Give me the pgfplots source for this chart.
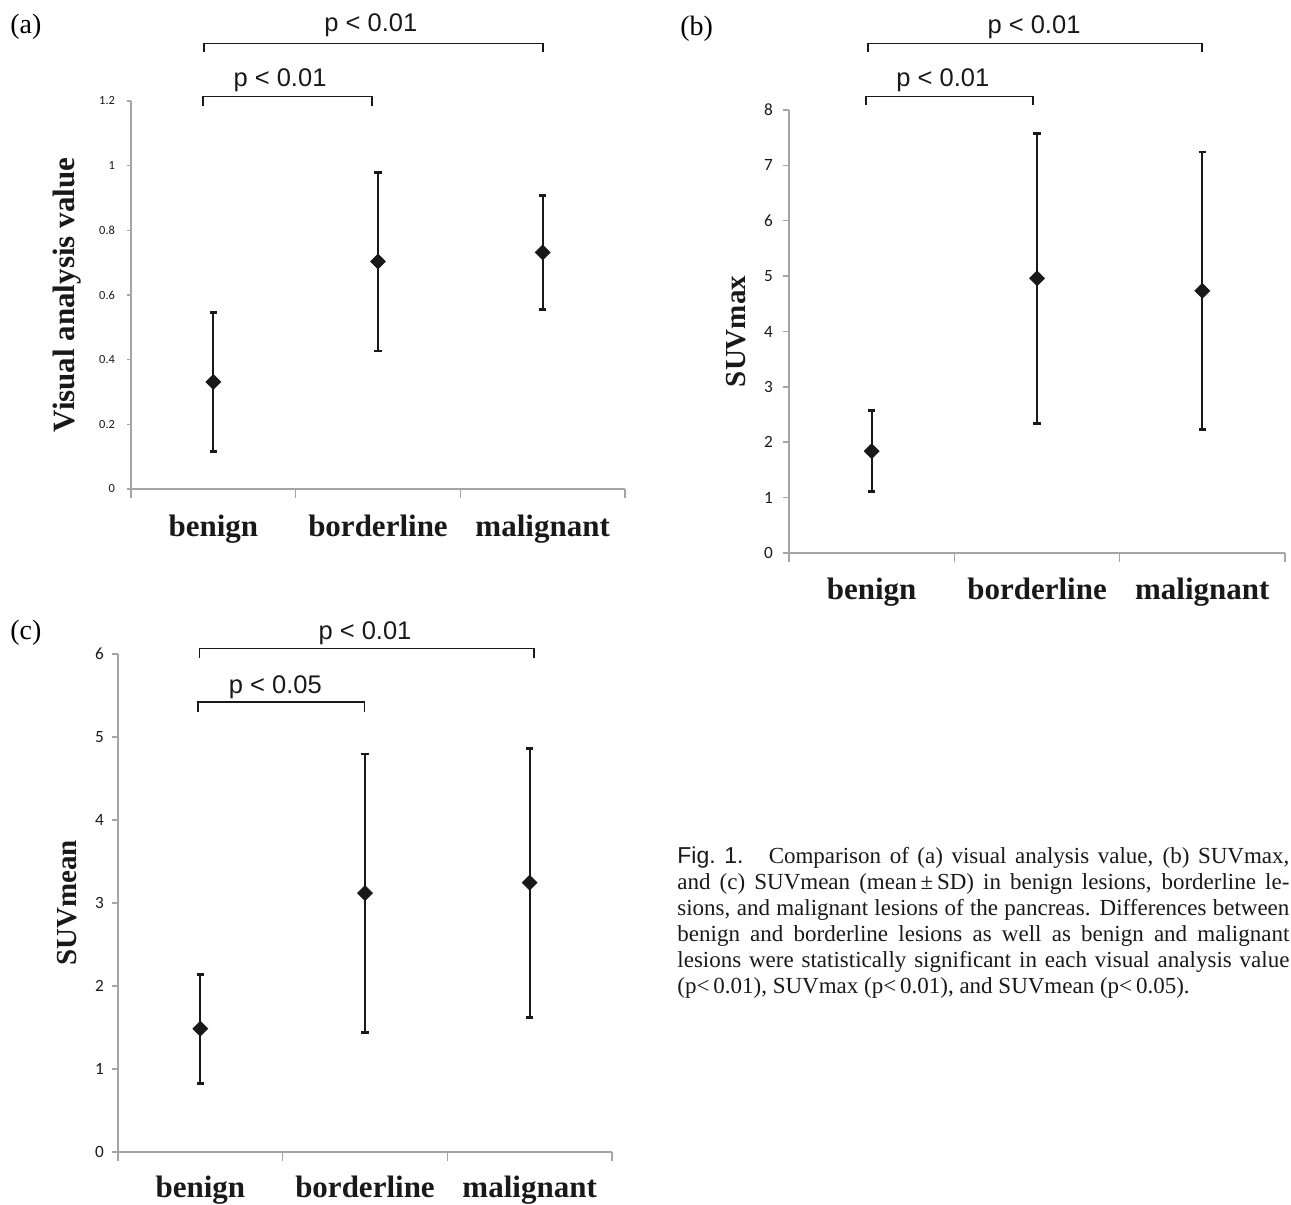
\documentclass[border=0pt]{standalone}
\usepackage{fontspec}
\setmainfont{Liberation Serif}
\newfontfamily\sansf{Liberation Sans}
\newfontfamily\tickf{Carlito}
\usepackage{pgfplots}
\pgfplotsset{compat=1.18}
\definecolor{axgray}{RGB}{165,165,165}
\definecolor{ink}{RGB}{25,25,25}
\tikzset{
  bracket/.style={draw=ink, line width=0.7pt},
  ptext/.style={font=\sansf\fontsize{12.75}{12.75}\selectfont, text=ink, anchor=base, inner sep=0pt},
}
\pgfplotsset{
  panel/.style={
    scale only axis, anchor=south west,
    xmin=0.5, xmax=3.5, ymin=0,
    axis lines*=left,
    axis line style={draw=axgray, line width=0.75pt},
    tick align=outside,
    xtick={1,2,3}, xticklabels={benign,borderline,malignant},
    minor xtick={0.5,1.5,2.5,3.5},
    major x tick style={draw=none},
    minor x tick style={draw=axgray, line width=0.75pt},
    minor tick length=4.4pt,
    y tick style={draw=axgray, line width=0.75pt},
    xticklabel style={font=\bfseries\fontsize{15.5}{15.5}\selectfont, text=ink, anchor=base},
    /pgf/number format/assume math mode=true,
    ylabel style={text=ink, anchor=center},
    clip=false,
  },
  meansd/.style={only marks, mark=square*, mark size=2.6pt,
    mark options={rotate=45, fill=ink, draw=ink},
    error bars/.cd, y dir=both, y explicit, error mark=|,
    error bar style={line width=1.1pt, ink},
    error mark options={mark size=1.9pt, line width=1.4pt, ink}},
}
\begin{document}
\begin{tikzpicture}
\path[use as bounding box] (0,0) rectangle (645.5pt,602.5pt);
% panel labels
\node[anchor=west, inner sep=0pt, font=\fontsize{14}{14}\selectfont] at (5pt,589pt) {(a)};
\node[anchor=west, inner sep=0pt, font=\fontsize{14}{14}\selectfont] at (340pt,588pt) {(b)};
\node[anchor=west, inner sep=0pt, font=\fontsize{14}{14}\selectfont] at (5pt,286pt) {(c)};

% (a)
\begin{axis}[panel, at={(65.5pt,358pt)}, width=247pt, height=194pt,
  ymax=1.2, ytick={0,0.2,0.4,0.6,0.8,1,1.2},
  major tick length=2pt,
  xticklabel style={yshift=-22pt},
  yticklabel style={font=\tickf\fontsize{6.2}{6.2}\selectfont, text=ink, xshift=-2.5pt},
  ylabel={Visual analysis value},
  ylabel style={font=\bfseries\fontsize{15.5}{15.5}\selectfont, at={(axis description cs:-0.1296,0.5)}},
]
\addplot[meansd] coordinates {
  (1,0.331) +- (0,0.215)
  (2,0.7035) +- (0,0.2765)
  (3,0.7315) +- (0,0.1755)
};
\draw[bracket] (axis cs:0.943,1.352) -- (axis cs:0.943,1.377) -- (axis cs:3.002,1.377) -- (axis cs:3.002,1.352);
\draw[bracket] (axis cs:0.937,1.183) -- (axis cs:0.937,1.213) -- (axis cs:1.964,1.213) -- (axis cs:1.964,1.183);
\node[ptext] at (axis cs:1.957,1.415) {p < 0.01};
\node[ptext] at (axis cs:1.405,1.244) {p < 0.01};
\end{axis}

% (b)
\begin{axis}[panel, at={(394.5pt,326pt)}, width=248pt, height=221.5pt,
  ymax=8, ytick={0,1,2,3,4,5,6,7,8},
  major tick length=3pt,
  xticklabel style={yshift=-20.2pt},
  yticklabel style={font=\tickf\fontsize{8.6}{8.6}\selectfont, text=ink, xshift=-1.6pt},
  ylabel={SUVmax},
  ylabel style={font=\bfseries\fontsize{14.5}{14.5}\selectfont, at={(axis description cs:-0.107,0.5)}},
]
\addplot[meansd] coordinates {
  (1,1.839) +- (0,0.732)
  (2,4.96) +- (0,2.62)
  (3,4.735) +- (0,2.505)
};
\draw[bracket] (axis cs:0.978,9.055) -- (axis cs:0.978,9.203) -- (axis cs:2.998,9.203) -- (axis cs:2.998,9.055);
\draw[bracket] (axis cs:0.966,8.096) -- (axis cs:0.966,8.249) -- (axis cs:1.976,8.249) -- (axis cs:1.976,8.096);
\node[ptext] at (axis cs:1.982,9.39) {p < 0.01};
\node[ptext] at (axis cs:1.431,8.43) {p < 0.01};
\end{axis}

% (c)
\begin{axis}[panel, at={(59pt,26.5pt)}, width=247pt, height=249pt,
  ymax=6, ytick={0,1,2,3,4,5,6},
  major tick length=3pt,
  xticklabel style={yshift=-20pt},
  yticklabel style={font=\tickf\fontsize{8.6}{8.6}\selectfont, text=ink, xshift=-0.6pt},
  ylabel={SUVmean},
  ylabel style={font=\bfseries\fontsize{14.5}{14.5}\selectfont, at={(axis description cs:-0.103,0.5)}},
]
\addplot[meansd] coordinates {
  (1,1.485) +- (0,0.657)
  (2,3.119) +- (0,1.677)
  (3,3.245) +- (0,1.62)
};
\draw[bracket] (axis cs:0.996,5.949) -- (axis cs:0.996,6.064) -- (axis cs:3.026,6.064) -- (axis cs:3.026,5.949);
\draw[bracket] (axis cs:0.986,5.304) -- (axis cs:0.986,5.423) -- (axis cs:1.997,5.423) -- (axis cs:1.997,5.304);
\node[ptext] at (axis cs:2.0,6.17) {p < 0.01};
\node[ptext] at (axis cs:1.456,5.53) {p < 0.05};
\end{axis}

% caption
\node[anchor=base west, inner sep=0pt, text width=306pt, align=justify,
  font=\fontsize{11.5}{13}\selectfont, text=ink] at (338.5pt,170.5pt)
{\mbox{\sansf Fig. 1.}\hspace{1.1em}Comparison of (a) visual analysis value, (b) SUVmax,\linebreak
and (c) SUVmean (mean\,±\,SD) in benign lesions, borderline le-\linebreak
sions, and malignant lesions of the pancreas. Differences between\linebreak
benign and borderline lesions as well as benign and malignant\linebreak
lesions were statistically significant in each visual analysis value\linebreak
(p<\,0.01), SUVmax (p<\,0.01), and SUVmean (p<\,0.05).};
\end{tikzpicture}
\end{document}
